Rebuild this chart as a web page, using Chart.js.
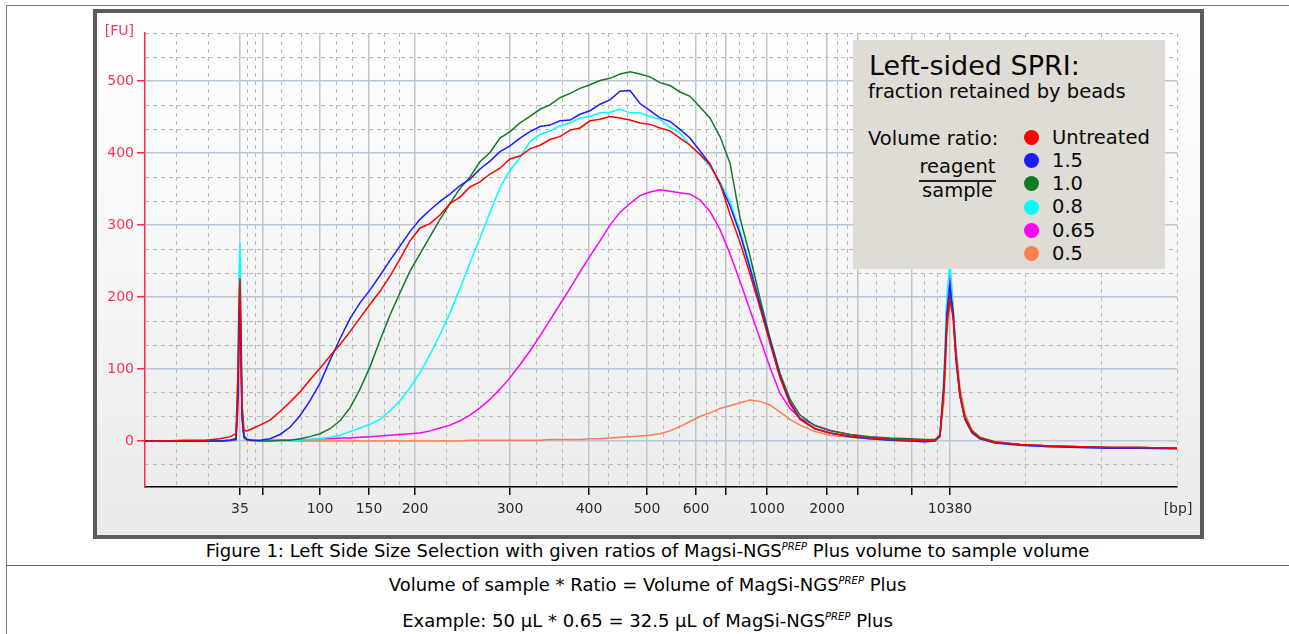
<!DOCTYPE html>
<html>
<head>
<meta charset="utf-8">
<title>Left Side Size Selection</title>
<script src="https://cdn.jsdelivr.net/npm/chart.js@4.4.1/dist/chart.umd.min.js"></script>
<style>
  html, body { margin: 0; padding: 0; background: #fff; }
  body { width: 1289px; height: 634px; position: relative; overflow: hidden; font-family: "DejaVu Sans", Verdana, sans-serif; color: #000; }
  .rule { position: absolute; background: #808080; }
  #frame { position: absolute; left: 93px; top: 9px; width: 1111px; height: 530px; box-sizing: border-box;
           border: 4px solid #5b5b5b; background: linear-gradient(to bottom, #fefefe 0%, #f7f7f7 45%, #eaeaea 100%); }
  #chart { position: absolute; left: 0; top: 0; }
  #key { position: absolute; left: 756px; top: 27px; width: 312px; height: 229px; background: #dfdbd5; color: #0a0a0a; }
  #key div { position: absolute; white-space: nowrap; line-height: 1; font-size: 19.5px; }
  #key .dot { width: 15px; height: 15px; border-radius: 50%; }
  .caption { position: absolute; left: 6px; width: 1283px; text-align: center; font-size: 18px; line-height: 1; white-space: nowrap; }
  .caption sup { font-size: 10px; font-style: italic; vertical-align: 0; position: relative; top: -7px; }
</style>
</head>
<body>
<div class="rule" style="left:6px;top:5px;width:1283px;height:1px;"></div>
<div class="rule" style="left:6px;top:5px;width:1px;height:629px;"></div>
<div class="rule" style="left:6px;top:565px;width:1283px;height:1px;background:#666;"></div>

<div id="frame">
  <canvas id="chart" width="1103" height="522"></canvas>
  <div id="key">
    <div style="left:16px;top:12px;font-size:27px;">Left-sided SPRI:</div>
    <div style="left:15px;top:42px;">fraction retained by beads</div>
    <div style="left:15px;top:88.5px;">Volume ratio:</div>
    <div style="left:66px;top:117px;width:77px;text-align:center;">reagent</div>
    <div style="left:66px;top:140px;width:77px;height:1.5px;background:#222;"></div>
    <div style="left:66px;top:140.5px;width:77px;text-align:center;">sample</div>
  </div>
</div>

<div class="caption" style="top:542px">Figure 1: Left Side Size Selection with given ratios of Magsi-NGS<sup>PREP</sup> Plus volume to sample volume</div>
<div class="caption" style="top:576px">Volume of sample * Ratio = Volume of MagSi-NGS<sup>PREP</sup> Plus</div>
<div class="caption" style="top:612px">Example: 50 µL * 0.65 = 32.5 µL of MagSi-NGS<sup>PREP</sup> Plus</div>

<script>
// migration time (s) of each sample point, shared by all traces
const migrationTime = [40, 42, 44, 46, 47.5, 48.5, 49.1, 49.3, 49.4, 49.5,
  49.6, 49.7, 49.9, 50.2, 50.7, 51.5, 52.5, 53.5, 54.5, 55.5,
  56.5, 57.5, 58.5, 59.5, 60.5, 61.5, 62.5, 63.5, 64.5, 65.5,
  66.5, 67.5, 68.5, 69.5, 70.5, 71.5, 72.5, 73.5, 74.5, 75.5,
  76.5, 77.5, 78.5, 79.5, 80.5, 81.5, 82.5, 83.5, 84.5, 85.5,
  86.5, 87.5, 88.5, 89.5, 90.5, 91.5, 92.5, 93.5, 94.5, 95.5,
  96.5, 97.5, 98.5, 99.5, 100.5, 101.5, 102.5, 103.5, 104.5, 105.5,
  107, 108.5, 110.5, 112.5, 114.5, 116.5, 118, 119, 119.5, 119.9,
  120.2, 120.5, 120.8, 121.1, 121.5, 122, 122.7, 123.5, 125, 127.5,
  130.5, 133.5, 136.5, 139.5, 143.2];

// fluorescence [FU]
const untreated = [0, 0, 1, 1, 3, 6, 10, 95, 195, 226,
  160, 50, 15, 14, 17, 22, 29, 41, 54, 68,
  85, 101, 118, 134, 152, 171, 190, 208, 229, 253,
  278, 296, 302, 314, 330, 339, 353, 360, 371, 379,
  392, 396, 406, 411, 419, 423, 432, 435, 445, 447,
  451, 449, 446, 442, 440, 435, 431, 421, 411, 398,
  384, 358, 315, 276, 232, 185, 136, 88, 52, 30,
  17, 11, 7, 4, 2, 1, 0, 1, 6, 75,
  165, 196, 172, 112, 62, 30, 12, 4, -2, -5,
  -7, -8, -9, -9, -10];
const ratio15 = [0, 0, 0, 0, 0, 1, 3, 60, 150, 185,
  120, 35, 6, 2, 1, 1, 3, 9, 19, 35,
  56, 80, 112, 142, 170, 192, 210, 230, 251, 271,
  291, 308, 321, 333, 343, 355, 364, 378, 389, 402,
  410, 421, 430, 437, 439, 445, 446, 454, 459, 468,
  474, 486, 487, 469, 459, 449, 444, 433, 421, 403,
  385, 357, 327, 288, 240, 190, 140, 90, 54, 31,
  17, 11, 6, 3, 1, 0, -1, 0, 7, 80,
  180, 215, 178, 115, 62, 30, 11, 3, -3, -6,
  -8, -9, -10, -10, -11];
const ratio10 = [0, 0, 0, 0, 0, 1, 2, 70, 170, 205,
  130, 35, 5, 2, 1, 0, 0, 1, 1, 3,
  6, 10, 17, 28, 46, 72, 103, 140, 175, 206,
  236, 260, 284, 308, 330, 351, 367, 388, 401, 421,
  430, 442, 451, 461, 467, 477, 483, 490, 495, 501,
  504, 510, 513, 510, 506, 498, 494, 485, 479, 464,
  449, 423, 386, 310, 257, 198, 143, 94, 58, 36,
  21, 14, 9, 6, 4, 3, 2, 2, 8, 75,
  170, 205, 182, 120, 65, 33, 14, 5, -1, -5,
  -7, -8, -9, -9, -10];
const ratio08 = [0, 0, 0, 0, 0, 1, 3, 110, 235, 275,
  180, 55, 8, 3, 1, 0, 0, 0, 0, 1,
  2, 3, 5, 8, 13, 18, 23, 30, 42, 56,
  74, 95, 120, 148, 178, 212, 248, 282, 318, 352,
  376, 394, 416, 426, 431, 438, 442, 449, 451, 456,
  457, 461, 456, 456, 451, 447, 436, 428, 411, 398,
  381, 360, 333, 292, 244, 190, 138, 88, 53, 31,
  17, 11, 6, 3, 1, 0, -1, 0, 9, 95,
  205, 250, 190, 117, 64, 31, 12, 3, -3, -6,
  -8, -9, -10, -10, -11];
const ratio065 = [0, 0, 0, 0, 0, 1, 2, 80, 175, 200,
  135, 40, 6, 2, 1, 0, 1, 1, 1, 2,
  2, 3, 3, 4, 4, 5, 6, 7, 8, 9,
  10, 11, 14, 18, 22, 28, 36, 46, 58, 72,
  88, 106, 125, 146, 168, 190, 212, 235, 257, 278,
  300, 318, 330, 341, 346, 349, 347, 345, 343, 335,
  319, 294, 260, 222, 182, 142, 102, 66, 45, 32,
  22, 15, 9, 5, 3, 2, 1, 1, 8, 85,
  195, 226, 185, 118, 63, 31, 12, 4, -2, -5,
  -7, -8, -9, -9, -10];
const ratio05 = [0, 0, 0, 0, 0, 0, 1, 40, 125, 180,
  115, 30, 3, 1, 0, 0, 0, 0, 0, 0,
  0, 0, 0, 0, 0, 0, 0, 0, 0, 0,
  0, 0, 0, 0, 0, 0, 1, 1, 1, 1,
  1, 1, 1, 1, 2, 2, 2, 2, 3, 3,
  4, 5, 6, 7, 8, 10, 14, 20, 27, 34,
  39, 45, 49, 53, 57, 55, 50, 40, 30, 22,
  13, 8, 5, 3, 2, 1, 0, 1, 6, 55,
  150, 192, 185, 130, 75, 38, 15, 5, -1, -5,
  -7, -8, -9, -9, -10];

const seriesNames = ["Untreated", "1.5", "1.0", "0.8", "0.65", "0.5"];
const seriesColors = ["#ff0000", "#1c1cff", "#137a26", "#00ffff", "#ff00ff", "#ff7f50"];

// ladder peaks: migration time and size label (blank = unlabelled tick)
const ladderTime = [49.5, 51.8, 57.5, 62.4, 67.0, 76.5, 84.4, 90.2, 95.1, 98.1, 102.2, 108.2, 111.3, 116.7, 120.5];
const ladderLabels = ["35", "", "100", "150", "200", "300", "400", "500", "600", "", "1000", "2000", "", "", "10380"];
const fuTicks = [0, 100, 200, 300, 400, 500];

const timeMin = 40, timeMax = 143.2;
const fuMin = -64, fuMax = 567;

// dashed minor grid: two lines between each pair of solid ones
function thirds(edges) {
  const out = [];
  for (let i = 0; i < edges.length - 1; i++) {
    const a = edges[i], b = edges[i + 1];
    out.push(a + (b - a) / 3, a + 2 * (b - a) / 3);
  }
  return out;
}
const xMinorTicks = thirds([timeMin, ...ladderTime, timeMax]).concat([timeMax]);
const yMinorTicks = thirds([-100, ...fuTicks, 600]).filter(v => v > fuMin && v <= fuMax + 0.5);

const series = [untreated, ratio15, ratio10, ratio08, ratio065, ratio05];

// legend entries
const key = document.getElementById("key");
seriesNames.forEach((name, k) => {
  const base = 104 + k * 23.33;
  const dot = document.createElement("div");
  dot.className = "dot";
  dot.style.cssText = `left:171px;top:${base - 14.2}px;background:${seriesColors[k]};`;
  key.appendChild(dot);
  const txt = document.createElement("div");
  txt.style.cssText = `left:199px;top:${base - 16.5}px;`;
  txt.textContent = name;
  key.appendChild(txt);
});

const axisUnits = {
  id: "axisUnits",
  afterDraw(chart) {
    const { ctx, chartArea } = chart;
    ctx.save();
    ctx.font = '14px "DejaVu Sans"';
    ctx.textBaseline = "middle";
    ctx.fillStyle = "#ff3355";
    ctx.textAlign = "right";
    ctx.fillText("[FU]", chartArea.left - 11, chartArea.top - 1.5);
    ctx.fillStyle = "#2b2b2b";
    ctx.textAlign = "center";
    ctx.fillText("[bp]", chartArea.right + 1, chartArea.bottom + 8 + 6 + 8.4);
    ctx.restore();
  }
};

Chart.defaults.font.family = '"DejaVu Sans", sans-serif';

new Chart(document.getElementById("chart"), {
  type: "line",
  data: {
    datasets: series.map((vals, k) => ({
      label: seriesNames[k],
      data: migrationTime.map((t, i) => ({ x: t, y: vals[i] })),
      borderColor: seriesColors[k],
      borderWidth: 1.5,
      pointRadius: 0,
      tension: 0,
      fill: false
    }))
  },
  options: {
    responsive: false,
    animation: false,
    layout: { padding: { top: 20, right: 23, left: 0, bottom: 0 } },
    plugins: { legend: { display: false }, tooltip: { enabled: false } },
    scales: {
      x: {
        type: "linear", min: timeMin, max: timeMax,
        afterBuildTicks: s => { s.ticks = ladderTime.map(v => ({ value: v })); },
        afterFit: s => { s.height = 48; },
        ticks: { autoSkip: false, maxRotation: 0, padding: 6, color: "#2b2b2b", font: { size: 14 },
                 callback: (v, i) => ladderLabels[i] },
        grid: { color: "#bcc5d2", lineWidth: 1.5, tickColor: "#000", tickLength: 8, tickWidth: 1.5 },
        border: { color: "#000", width: 1.5 }
      },
      xMinor: {
        type: "linear", position: "bottom", min: timeMin, max: timeMax,
        afterBuildTicks: s => { s.ticks = xMinorTicks.map(v => ({ value: v })); },
        afterFit: s => { s.height = 0; },
        ticks: { display: false },
        grid: { color: "#b8b8b8", lineWidth: 1, drawTicks: false },
        border: { display: false, dash: [4, 4] }
      },
      y: {
        type: "linear", min: fuMin, max: fuMax,
        afterBuildTicks: s => { s.ticks = fuTicks.map(v => ({ value: v })); },
        afterFit: s => { s.width = 48; },
        ticks: { color: "#ff3355", font: { size: 14 }, padding: 3 },
        grid: { color: "#bcc5d2", lineWidth: 1.5, tickColor: "#ff2a4a", tickLength: 8, tickWidth: 1.5 },
        border: { color: "#ff2a4a", width: 1.5 }
      },
      yMinor: {
        type: "linear", position: "left", min: fuMin, max: fuMax,
        afterBuildTicks: s => { s.ticks = yMinorTicks.map(v => ({ value: v })); },
        afterFit: s => { s.width = 0; },
        ticks: { display: false },
        grid: { color: "#b8b8b8", lineWidth: 1, drawTicks: false },
        border: { display: false, dash: [4, 4] }
      }
    }
  },
  plugins: [axisUnits]
});
</script>
</body>
</html>
